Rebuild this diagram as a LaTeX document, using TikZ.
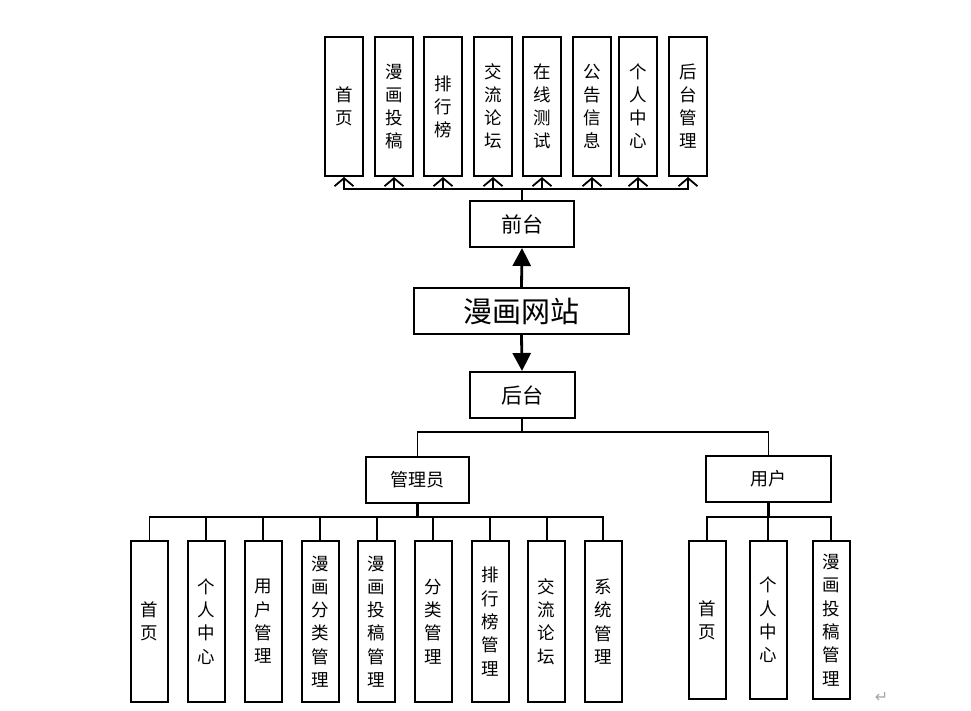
\documentclass[tikz,border=0pt]{standalone}
\usepackage{fontspec}
\newfontfamily\cjk{Noto Sans CJK SC}
\newfontfamily\dejavu{DejaVu Sans}
\usetikzlibrary{arrows.meta}
\begin{document}
\begin{tikzpicture}[x=1pt,y=-1pt,
  box/.style={draw, line width=2pt, inner sep=0pt, align=center},
  vbox/.style={box, minimum width=37.5pt, minimum height=139pt, font=\cjk\fontsize{17.5}{23}\selectfont},
  lbox/.style={box, minimum width=37pt, minimum height=161pt, font=\cjk\fontsize{17.5}{23.3}\selectfont},
  hbox/.style={box, minimum height=46pt, font=\cjk\fontsize{21}{24}\selectfont},
  sbox/.style={box, minimum height=46pt, font=\cjk\fontsize{18}{22}\selectfont},
  conn/.style={line width=1.8pt},
  trunk/.style={line width=2.8pt},
  openarr/.style={conn, -{Straight Barb[length=8pt,width=19pt,line width=1.8pt]}},
  bigarr/.style={line width=2.8pt, -{Triangle[length=18pt,width=18pt]}}
]
\useasboundingbox (0,0) rectangle (971,710);

% top boxes
\node[vbox] (t1) at (344,106.5) {首\\页};
\node[vbox] (t2) at (394,106.5) {漫\\画\\投\\稿};
\node[vbox] (t3) at (443,106.5) {排\\行\\榜};
\node[vbox] (t4) at (493,106.5) {交\\流\\论\\坛};
\node[vbox] (t5) at (542,106.5) {在\\线\\测\\试};
\node[vbox] (t6) at (592,106.5) {公\\告\\信\\息};
\node[vbox] (t7) at (638,106.5) {个\\人\\中\\心};
\node[vbox] (t8) at (688,106.5) {后\\台\\管\\理};

\node[hbox, minimum width=104pt] (qt) at (522,224) {前台};
\node[box, minimum width=215pt, minimum height=46pt, font=\cjk\fontsize{29}{32}\selectfont] (site) at (521.5,311) {漫画网站};
\node[hbox, minimum width=105pt] (ht) at (522,395) {后台};

\node[sbox, minimum width=103pt] (adm) at (417.5,479.5) {管理员};
\node[sbox, minimum width=125pt] (usr) at (768.5,479) {用户};

% admin boxes
\node[lbox] (a1) at (149.5,621.5) {首\\页};
\node[lbox] (a2) at (206.3,621.5) {个\\人\\中\\心};
\node[lbox] (a3) at (263.3,621.5) {用\\户\\管\\理};
\node[lbox] (a4) at (320,621.5) {漫\\画\\分\\类\\管\\理};
\node[lbox] (a5) at (376.7,621.5) {漫\\画\\投\\稿\\管\\理};
\node[lbox] (a6) at (433.3,621.5) {分\\类\\管\\理};
\node[lbox] (a7) at (490,621.5) {排\\行\\榜\\管\\理};
\node[lbox] (a8) at (546.7,621.5) {交\\流\\论\\坛};
\node[lbox] (a9) at (603.3,621.5) {系\\统\\管\\理};

% user boxes
\node[lbox, minimum height=158pt] (u1) at (707,620) {首\\页};
\node[lbox, minimum height=158pt] (u2) at (768,620) {个\\人\\中\\心};
\node[lbox, minimum height=158pt] (u3) at (831.3,620) {漫\\画\\投\\稿\\管\\理};

% junction coordinates
\coordinate (jt) at (522,189);
\coordinate (jh) at (522,432.3);
\coordinate (ja) at (417.5,516.7);
\coordinate (ju) at (768.5,516.7);

% top connectors
\draw[trunk] (qt.north) -- (jt);
\foreach \i in {1,...,8} {\draw[openarr] (jt) -| (t\i.south);}

% main arrows
\draw[bigarr] (site.north) -- (qt.south);
\draw[bigarr] (site.south) -- (ht.north);

% back-end tree
\draw[conn] (ht.south) -- (jh);
\draw[conn] (jh) -| (adm.north);
\draw[conn] (jh) -| (usr.north);
\draw[trunk] (adm.south) -- (ja);
\draw[trunk] (usr.south) -- (ju);
\foreach \i in {1,...,9} {\draw[conn] (ja) -| (a\i.north);}
\foreach \i in {1,2,3} {\draw[conn] (ju) -| (u\i.north);}

% paragraph mark
\node[text=gray!70, font=\dejavu\fontsize{16}{16}\selectfont, inner sep=0pt] (pm) at (881.5,697) {↵};
\end{tikzpicture}
\end{document}
